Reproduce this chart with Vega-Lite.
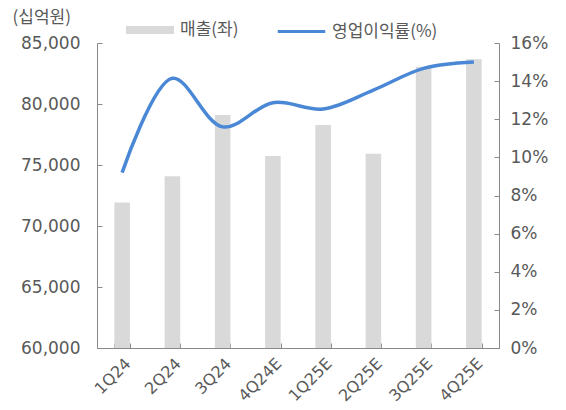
{
  "$schema": "https://vega.github.io/schema/vega-lite/v6.json",
  "width": 402,
  "height": 305,
  "autosize": {"type": "none"},
  "padding": {"left": 97, "top": 43, "right": 67, "bottom": 62},
  "background": "white",
  "config": {
    "font": "DejaVu Sans",
    "view": {"stroke": null},
    "axis": {
      "grid": false,
      "labelColor": "#595959",
      "labelFontSize": 17,
      "labelFont": "DejaVu Sans",
      "domainColor": "#898989",
      "tickColor": "#898989",
      "domainWidth": 1,
      "tickWidth": 1
    },
    "legend": {
      "labelColor": "#595959",
      "labelFontSize": 17,
      "labelFont": "Noto Sans CJK KR",
      "padding": 0
    }
  },
  "data": {
    "values": [
      {"q": "1Q24", "sales": 71916, "opm": 9.2},
      {"q": "2Q24", "sales": 74068, "opm": 14.15},
      {"q": "3Q24", "sales": 79099, "opm": 11.6},
      {"q": "4Q24E", "sales": 75740, "opm": 12.87},
      {"q": "1Q25E", "sales": 78280, "opm": 12.54},
      {"q": "2Q25E", "sales": 75930, "opm": 13.53},
      {"q": "3Q25E", "sales": 83060, "opm": 14.67},
      {"q": "4Q25E", "sales": 83660, "opm": 15.0}
    ]
  },
  "encoding": {
    "x": {
      "field": "q",
      "type": "nominal",
      "sort": null,
      "scale": {"paddingInner": 0.69, "paddingOuter": 0.345},
      "axis": {
        "title": null,
        "labelAngle": -45,
        "tickBand": "extent",
        "tickSize": -5,
        "labelPadding": 12,
        "labelFontSize": 16
      }
    }
  },
  "layer": [
    {
      "mark": {"type": "bar", "clip": true},
      "encoding": {
        "y": {
          "field": "sales",
          "type": "quantitative",
          "scale": {"domain": [60000, 85000], "zero": false, "nice": false},
          "axis": {
            "values": [60000, 65000, 70000, 75000, 80000, 85000],
            "format": ",.0f",
            "tickSize": -5,
            "labelPadding": 22,
            "title": "(십억원)",
            "titleAngle": 0,
            "titleAlign": "left",
            "titleBaseline": "middle",
            "titleX": -85,
            "titleY": -26,
            "titleFont": "Noto Sans CJK KR",
            "titleFontSize": 17,
            "titleFontWeight": "normal",
            "titleColor": "#595959"
          }
        },
        "color": {
          "datum": "매출(좌)",
          "scale": {"range": ["#d9d9d9"]},
          "legend": {
            "title": null,
            "orient": "none",
            "legendX": 29,
            "legendY": -37,
            "symbolType": "M-1,-0.17H1V0.17H-1Z",
            "symbolSize": 2304,
            "symbolStrokeWidth": 0,
            "symbolOpacity": 1,
            "labelOffset": 6
          }
        }
      }
    },
    {
      "mark": {"type": "line", "interpolate": "catmull-rom", "strokeWidth": 3.5},
      "encoding": {
        "y": {
          "field": "opm",
          "type": "quantitative",
          "scale": {"domain": [0, 16], "nice": false},
          "axis": {
            "orient": "right",
            "values": [0, 2, 4, 6, 8, 10, 12, 14, 16],
            "labelExpr": "datum.value + '%'",
            "tickSize": -5,
            "labelPadding": 16,
            "title": null
          }
        },
        "stroke": {
          "datum": "영업이익률(%)",
          "scale": {"range": ["#4a88d6"]},
          "legend": {
            "title": null,
            "orient": "none",
            "legendX": 179,
            "legendY": -37,
            "symbolType": "stroke",
            "symbolSize": 2256,
            "symbolStrokeWidth": 3,
            "labelOffset": 5
          }
        }
      }
    }
  ],
  "resolve": {"scale": {"y": "independent"}}
}
